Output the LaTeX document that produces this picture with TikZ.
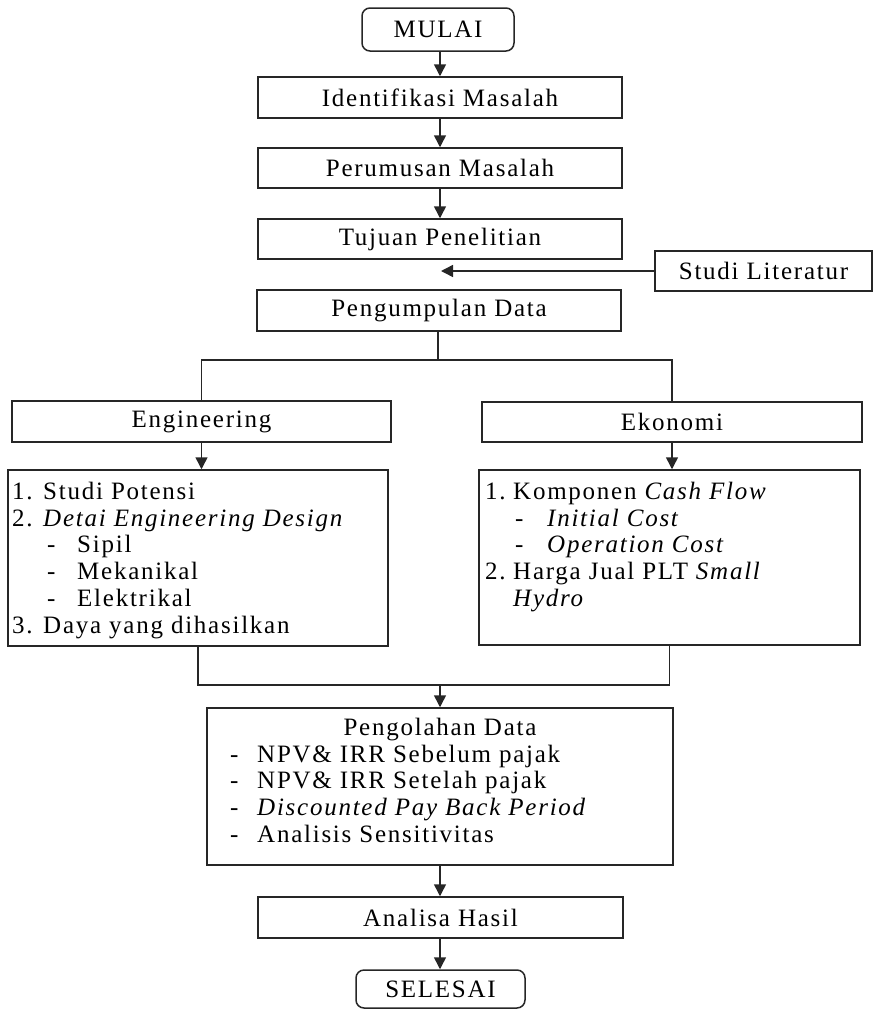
\documentclass[tikz,border=0pt]{standalone}
\usepackage{fontspec}
\setmainfont{Liberation Serif}[LetterSpace=7]
\usetikzlibrary{arrows.meta}
\begin{document}
\begin{tikzpicture}[x=1pt,y=-1pt,
  lc/.style={draw=black!85, line width=1.5pt},
  box/.style={lc, rectangle, inner sep=0pt, font=\fontsize{25}{27}\selectfont},
  term/.style={box, rounded corners=8pt},
  txt/.style={inner sep=0pt, anchor=base west, font=\fontsize{25}{27}\selectfont},
  ctxt/.style={txt, anchor=base},
  conn/.style={lc},
  arr/.style={lc, -{Triangle[width=12pt,length=12pt]}}]
\useasboundingbox (0,0) rectangle (874,1010);

% boxes
\node[term, minimum width=152pt, minimum height=43pt] (mulai) at (438,29.5) {MULAI};
\node[box, minimum width=364pt, minimum height=41pt] (ident) at (440,97.5) {Identifikasi Masalah};
\node[box, minimum width=364pt, minimum height=40pt] (rumus) at (440,168) {Perumusan Masalah};
\node[box, minimum width=364pt, minimum height=40pt] (tujuan) at (440,239) {Tujuan Penelitian};
\node[box, minimum width=217pt, minimum height=40pt] (studi) at (763.5,271) {Studi Literatur};
\node[box, minimum width=364pt, minimum height=41pt] (kumpul) at (439,310.5) {Pengumpulan Data};
\node[box, minimum width=379pt, minimum height=41pt] (eng) at (201.5,421.5) {Engineering};
\node[box, minimum width=380pt, minimum height=40pt] (eko) at (672,422) {Ekonomi};
\node[box, minimum width=380pt, minimum height=176pt] (engdet) at (198,558) {};
\node[box, minimum width=381pt, minimum height=175pt] (ekodet) at (669.5,557.5) {};
\node[box, minimum width=466pt, minimum height=157pt] (olah) at (440,786.5) {};
\node[box, minimum width=365pt, minimum height=41pt] (analisa) at (440.5,917.5) {Analisa Hasil};
\node[term, minimum width=169pt, minimum height=38pt] (selesai) at (440.5,989) {SELESAI};

% text in engineering detail box
\node[txt] (e1n) at (12,499) {1.};
\node[txt] (e1) at (43,499) {Studi Potensi};
\node[txt] (e2n) at (12,526) {2.};
\node[txt] (e2) at (43,526) {\textit{Detai Engineering Design}};
\node[txt] (e3d) at (47,552) {-};
\node[txt] (e3) at (77,552) {Sipil};
\node[txt] (e4d) at (47,579) {-};
\node[txt] (e4) at (77,579) {Mekanikal};
\node[txt] (e5d) at (47,606) {-};
\node[txt] (e5) at (77,606) {Elektrikal};
\node[txt] (e6n) at (12,633) {3.};
\node[txt] (e6) at (43,633) {Daya yang dihasilkan};

% text in ekonomi detail box
\node[txt] (k1n) at (485,499) {1.};
\node[txt] (k1) at (513,499) {Komponen \textit{Cash Flow}};
\node[txt] (k2d) at (515,526) {-};
\node[txt] (k2) at (547,526) {\textit{Initial Cost}};
\node[txt] (k3d) at (515,552) {-};
\node[txt] (k3) at (547,552) {\textit{Operation Cost}};
\node[txt] (k4n) at (485,579) {2.};
\node[txt] (k4) at (513,579) {Harga Jual PLT \textit{Small}};
\node[txt] (k5) at (513,606) {\textit{Hydro}};

% text in pengolahan box
\node[ctxt] (o0) at (440,735) {Pengolahan Data};
\node[txt] (o1d) at (230,762) {-};
\node[txt] (o1) at (257,762) {NPV\& IRR Sebelum pajak};
\node[txt] (o2d) at (230,788) {-};
\node[txt] (o2) at (257,788) {NPV\& IRR Setelah pajak};
\node[txt] (o3d) at (230,815) {-};
\node[txt] (o3) at (257,815) {\textit{Discounted Pay Back Period}};
\node[txt] (o4d) at (230,842) {-};
\node[txt] (o4) at (257,842) {Analisis Sensitivitas};

% coordinates
\coordinate (lit) at (441,271);
\coordinate (split) at (438,360);
\coordinate (join) at (440,685);

% connectors
\draw[arr] (ident.north |- mulai.south) -- (ident.north);
\draw[arr] (ident.south) -- (rumus.north);
\draw[arr] (rumus.south) -- (tujuan.north);
\draw[arr] (studi.west) -- (lit);
\draw[conn] (kumpul.south -| split) -- (split);
\draw[conn] (eng.north) |- (split) -| (eko.north);
\draw[arr] (eng.south) -- (eng.south |- engdet.north);
\draw[arr] (eko.south) -- (eko.south |- ekodet.north);
\draw[conn] (engdet.south) |- (join) -| (ekodet.south);
\draw[arr] (join) -- (olah.north);
\draw[arr] (olah.south) -- (analisa.north -| olah.south);
\draw[arr] (analisa.south -| olah.south) -- (selesai.north -| olah.south);
\end{tikzpicture}
\end{document}
